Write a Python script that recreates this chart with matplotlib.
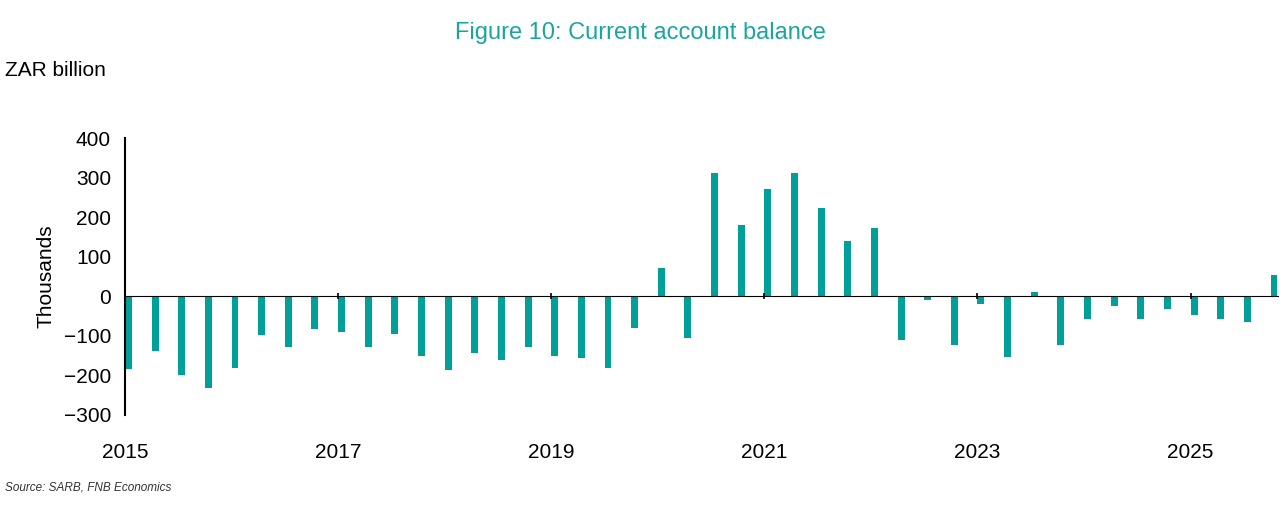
import numpy as np
import matplotlib.pyplot as plt
import matplotlib.transforms as mtransforms

plt.rcParams['font.family'] = ['Liberation Sans', 'DejaVu Sans']

years = np.repeat(np.arange(2015, 2026), 4)
quarters = np.tile(np.arange(4), 11)
balance = [-184, -139, -200, -232, -182, -98, -129, -83, -91, -129, -96, -152,
           -187, -144, -162, -129, -152, -157, -182, -81, 71, -106, 311, 179,
           270, 311, 222, 139, 172, -111, -10, -124, -20, -154, 12, -124,
           -58, -25, -58, -33, -48, -58, -66, 53]
year_labels = [2015, 2017, 2019, 2021, 2023, 2025]

teal = '#00a09a'

fig = plt.figure(figsize=(12.81, 5.21), dpi=100)
ax = fig.add_axes([125 / 1281, 1 - 415 / 521, (1278 - 125) / 1281, (415 - 138) / 521])

x = years + quarters / 4.0
ax.bar(x, balance, width=0.065, align='edge', color=teal)

ax.set_xlim(2015, 2025.82)
ax.set_ylim(-300, 400)
ax.set_yticks(range(-300, 401, 100))
ax.tick_params(axis='y', length=0, labelsize=15, pad=10)

ax.spines['top'].set_visible(False)
ax.spines['right'].set_visible(False)
ax.spines['left'].set_linewidth(1.5)
ax.spines['bottom'].set_position(('data', 0))
ax.set_xticks(year_labels)
ax.set_xticklabels([])
ax.tick_params(axis='x', length=5, direction='inout', width=1.2)

trans = mtransforms.blended_transform_factory(ax.transData, fig.transFigure)
for yr in year_labels:
    ax.text(yr, 1 - 453 / 521, str(yr), transform=trans, ha='center', va='center', fontsize=15)

ax.set_ylabel('Thousands', fontsize=15, labelpad=6)

fig.text(640 / 1281, 1 - 33 / 521, 'Figure 10: Current account balance', ha='center', va='center',
         fontsize=17, color='#1aa6a0')
fig.text(5 / 1281, 1 - 70 / 521, 'ZAR billion', ha='left', va='center', fontsize=15)
fig.text(5 / 1281, 1 - 488 / 521, 'Source: SARB, FNB Economics', ha='left', va='center',
         fontsize=8.5, style='italic', color='#333333')

fig.savefig('out.png', dpi=100)
